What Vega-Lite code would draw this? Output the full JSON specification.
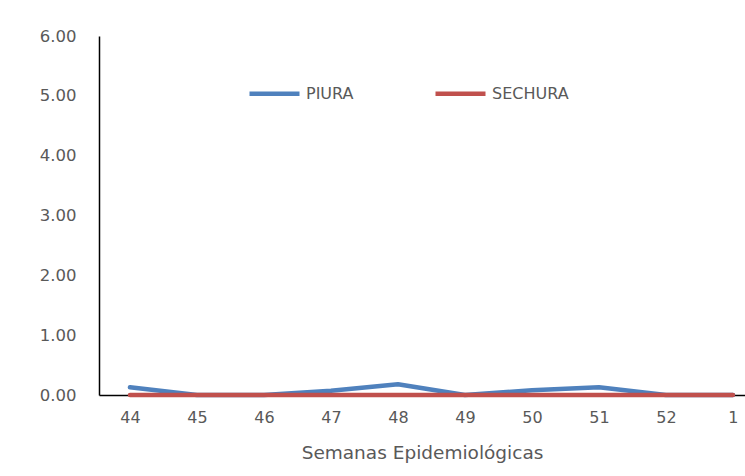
{
  "$schema": "https://vega.github.io/schema/vega-lite/v6.json",
  "autosize": "none",
  "width": 646,
  "height": 359,
  "padding": {"left": 99, "top": 36, "right": 0, "bottom": 81},
  "background": "white",
  "config": {
    "view": {"stroke": null},
    "font": "DejaVu Sans",
    "axis": {"labelFont": "DejaVu Sans", "titleFont": "DejaVu Sans", "labelColor": "#595959", "titleColor": "#595959", "domainColor": "#000000", "grid": false, "ticks": false}
  },
  "data": {
    "values": [
      {"semana": "44", "provincia": "PIURA", "valor": 0.13},
      {"semana": "45", "provincia": "PIURA", "valor": 0.0},
      {"semana": "46", "provincia": "PIURA", "valor": 0.0},
      {"semana": "47", "provincia": "PIURA", "valor": 0.07},
      {"semana": "48", "provincia": "PIURA", "valor": 0.18},
      {"semana": "49", "provincia": "PIURA", "valor": 0.0},
      {"semana": "50", "provincia": "PIURA", "valor": 0.08},
      {"semana": "51", "provincia": "PIURA", "valor": 0.13},
      {"semana": "52", "provincia": "PIURA", "valor": 0.0},
      {"semana": "1", "provincia": "PIURA", "valor": 0.0},
      {"semana": "44", "provincia": "SECHURA", "valor": 0.0},
      {"semana": "45", "provincia": "SECHURA", "valor": 0.0},
      {"semana": "46", "provincia": "SECHURA", "valor": 0.0},
      {"semana": "47", "provincia": "SECHURA", "valor": 0.0},
      {"semana": "48", "provincia": "SECHURA", "valor": 0.0},
      {"semana": "49", "provincia": "SECHURA", "valor": 0.0},
      {"semana": "50", "provincia": "SECHURA", "valor": 0.0},
      {"semana": "51", "provincia": "SECHURA", "valor": 0.0},
      {"semana": "52", "provincia": "SECHURA", "valor": 0.0},
      {"semana": "1", "provincia": "SECHURA", "valor": 0.0}
    ]
  },
  "mark": {"type": "line", "strokeWidth": 4.5, "strokeCap": "round", "strokeJoin": "round"},
  "encoding": {
    "x": {
      "field": "semana",
      "type": "ordinal",
      "sort": null,
      "scale": {"type": "point", "padding": 0.321, "align": 0.72},
      "axis": {"title": "Semanas Epidemiológicas", "labelAngle": 0, "labelFontSize": 16, "titleFontSize": 18.5, "titleFontWeight": "normal", "labelPadding": 14, "titlePadding": 18, "domainWidth": 1.5}
    },
    "y": {
      "field": "valor",
      "type": "quantitative",
      "scale": {"domain": [0, 6], "nice": false},
      "axis": {"title": null, "values": [0, 1, 2, 3, 4, 5, 6], "format": ".2f", "labelFontSize": 16.5, "labelPadding": 23, "domainWidth": 1.5}
    },
    "color": {
      "field": "provincia",
      "type": "nominal",
      "scale": {"domain": ["PIURA", "SECHURA"], "range": ["#4F81BD", "#C0504D"]},
      "legend": {
        "title": null,
        "orient": "none",
        "legendX": 148,
        "legendY": 30,
        "direction": "horizontal",
        "symbolType": "stroke",
        "symbolSize": 2500,
        "symbolStrokeWidth": 4.5,
        "labelFontSize": 16,
        "labelColor": "#595959",
        "labelFont": "DejaVu Sans",
        "labelOffset": 4,
        "columnPadding": 72
      }
    }
  }
}
